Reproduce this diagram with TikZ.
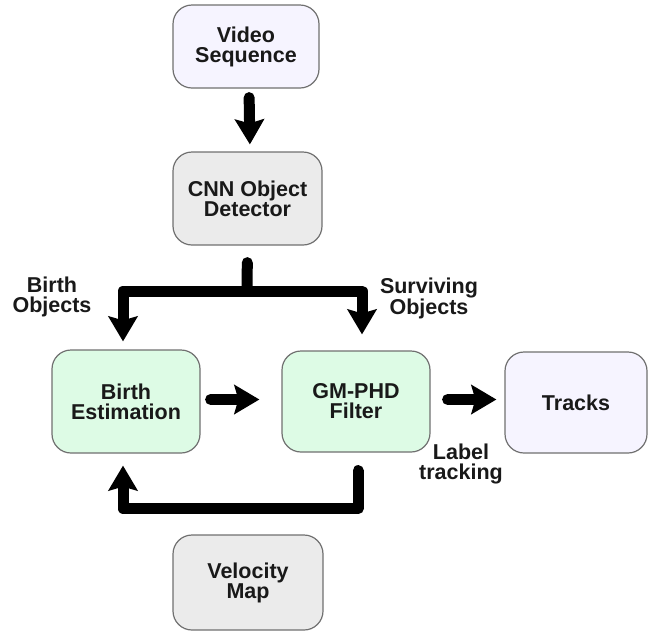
\documentclass[tikz,border=0pt]{standalone}
\usepackage{fontspec}
\setmainfont{Liberation Sans}
\usetikzlibrary{arrows.meta}
\usetikzlibrary{positioning}

\definecolor{boxline}{HTML}{707070}
\definecolor{lavender}{HTML}{F6F4FF}
\definecolor{greyfill}{HTML}{EBEBEB}
\definecolor{mint}{HTML}{DDFBE5}

\tikzset{
  stage/.style={draw=boxline, line width=1.2pt, rounded corners=19pt, align=center,
    inner sep=0pt, font=\fontsize{21.5}{20}\selectfont\bfseries, text=black!90},
  tag/.style={align=center, inner sep=0pt, font=\fontsize{21.5}{20}\selectfont\bfseries, text=black!90},
  flow/.style={line width=11pt, line cap=round, line join=round,
    -{Stealth[length=25pt, width=29pt, inset=4pt]}},
  bar/.style={line width=11pt, line cap=round}
}

\begin{document}
\begin{tikzpicture} [x=1pt, y=-1pt]
\useasboundingbox (0,0) rectangle (648,633);
% boxes
\node[stage, fill=lavender, minimum width=146pt, minimum height=83pt] (video) at (246,46.5) {Video\\Sequence};
\node[stage, fill=greyfill, minimum width=149pt, minimum height=93pt] (cnn) at (247.5,198.5) {CNN Object\\Detector};
\node[stage, fill=mint, minimum width=148pt, minimum height=103pt] (birth) at (126,401.5) {Birth\\Estimation};
\node[stage, fill=mint, minimum width=148pt, minimum height=101pt] (gmphd) at (356,401.5) {GM-PHD\\Filter};
\node[stage, fill=lavender, minimum width=142pt, minimum height=101pt] (tracks) at (576,402.5) {Tracks};
\node[stage, fill=greyfill, minimum width=150pt, minimum height=95pt] (velocity) at (248,582.5) {Velocity\\Map};
% labels
\node[tag] (birthobj) at (52,297) {Birth\\Objects};
\node[tag] (survobj) at (429,298) {Surviving\\Objects};
\node[tag] (labeltrk) at (461,464) {Label\\tracking};
% arrows
\draw[flow, shorten <=9pt, shorten >=7pt] ([xshift=3pt]video.south) -- ([xshift=2.5pt]cnn.north);
\coordinate (fork) at (247,291);
\draw[bar, shorten <=17pt] (cnn.south) -- (fork);
\draw[flow, {Stealth[length=25pt, width=29pt, inset=4pt]}-{Stealth[length=25pt, width=29pt, inset=4pt]},
  shorten <=8pt, shorten >=16pt] ([xshift=-3pt]birth.north) |- (fork) -| ([xshift=6pt]gmphd.north);
\draw[flow, shorten <=10pt, shorten >=22pt] ([yshift=2pt]birth.east) -- ([yshift=2pt]birth.east -| gmphd.west);
\draw[flow, shorten <=17pt, shorten >=8pt] ([yshift=2pt]gmphd.east) -- ([yshift=2pt]gmphd.east -| tracks.west);
\draw[flow, shorten <=18pt, shorten >=12pt] ([xshift=2pt]gmphd.south) -- ++(0,56) -| ([xshift=-3pt]birth.south);
\end{tikzpicture}
\end{document}
